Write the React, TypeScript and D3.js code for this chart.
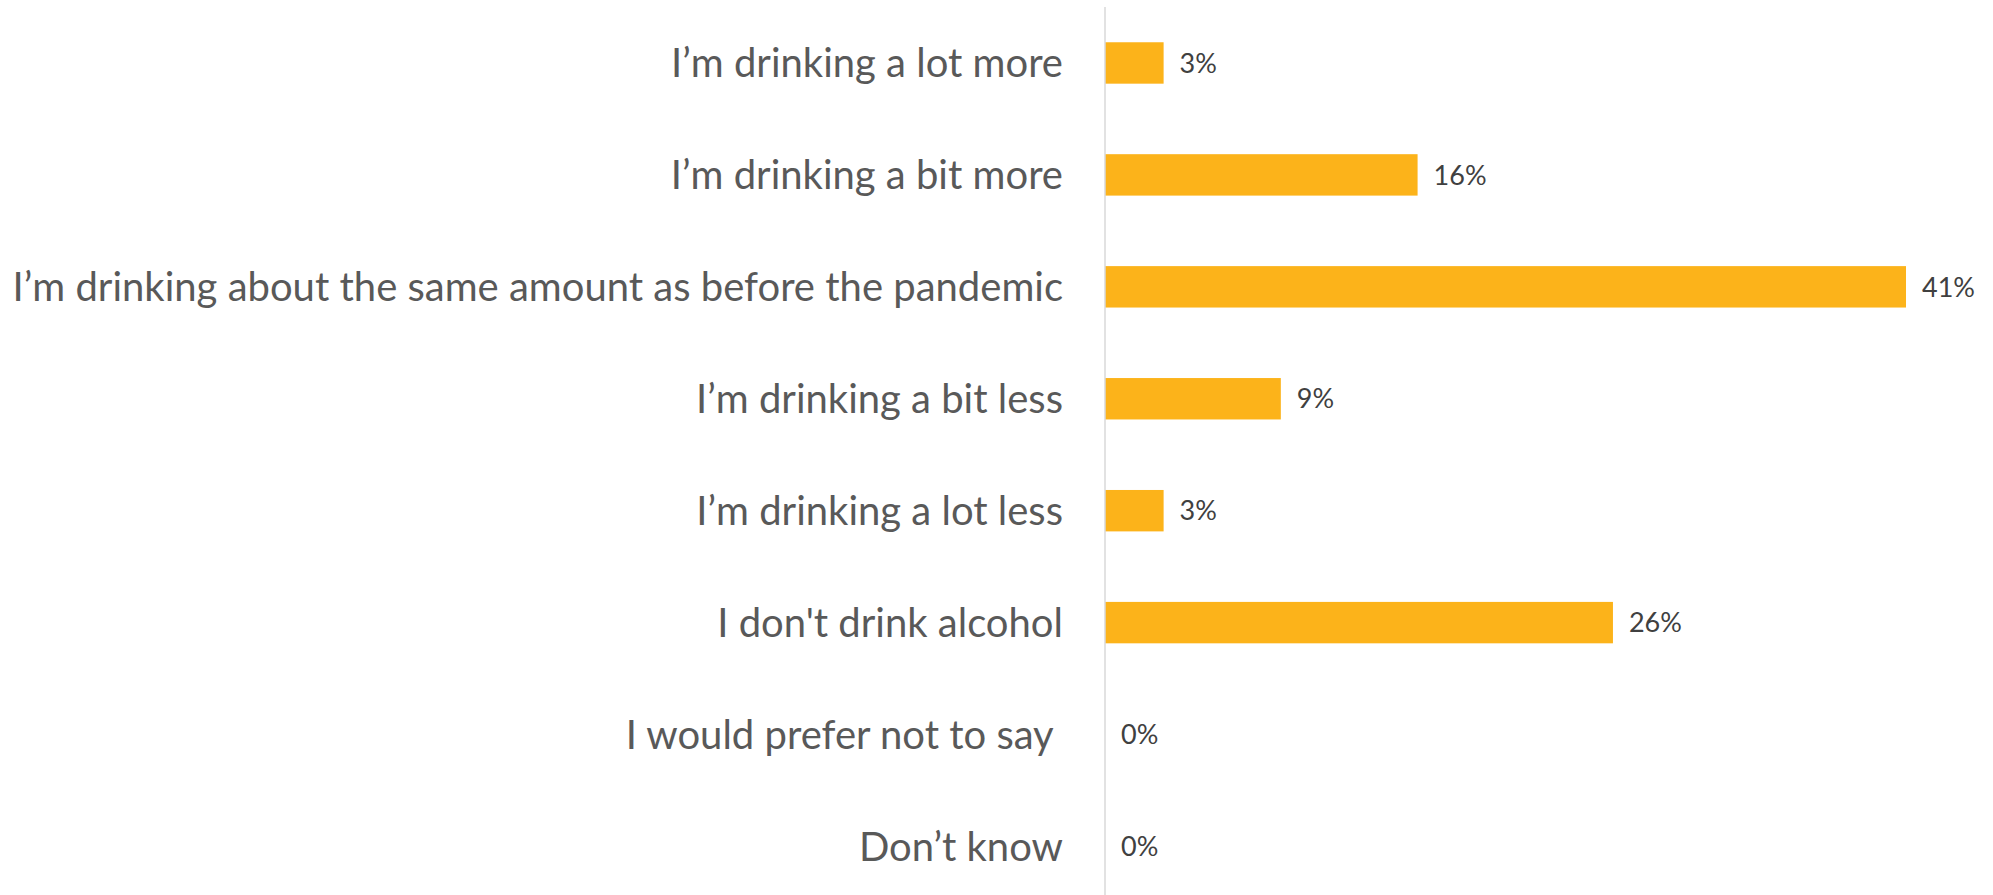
import React from "react";
import * as d3 from "d3";

const categories: string[] = [
  "I’m drinking a lot more",
  "I’m drinking a bit more",
  "I’m drinking about the same amount as before the pandemic",
  "I’m drinking a bit less",
  "I’m drinking a lot less",
  "I don't drink alcohol",
  "I would prefer not to say ",
  "Don’t know",
];
const values: number[] = [3, 16, 41, 9, 3, 26, 0, 0];
const valueLabels: string[] = ["3%", "16%", "41%", "9%", "3%", "26%", "0%", "0%"];

const W = 1993;
const H = 895;
const AXIS_X = 1105;
const BAR_COLOR = "#FCB31A";
const FONT = "Lato, 'Open Sans', sans-serif";

export default function App() {
  const x = d3.scaleLinear().domain([0, 41]).range([AXIS_X, 1906]);
  const y = d3
    .scaleBand<string>()
    .domain(categories)
    .range([7, 7 + 111.93 * categories.length])
    .paddingInner(0.63)
    .paddingOuter(0.315);

  const catSize = 40;
  const valSize = 27;

  return (
    <svg
      width={W}
      height={H}
      style={{ position: "absolute", left: 0, top: 0, background: "#fff" }}
    >
      <rect x={0} y={0} width={W} height={H} fill="#fff" />
      {categories.map((c, i) => {
        const yc = (y(c) as number) + y.bandwidth() / 2;
        const x1 = x(values[i]);
        return (
          <g key={c}>
            {values[i] > 0 && (
              <rect
                x={AXIS_X}
                y={y(c)}
                width={x1 - AXIS_X}
                height={y.bandwidth()}
                fill={BAR_COLOR}
              />
            )}
            <text
              x={1063}
              y={yc + catSize * 0.36}
              textAnchor="end"
              fontFamily={FONT}
              fontSize={catSize}
              fill="#595959"
              style={{ whiteSpace: "pre" }}
            >
              {c}
            </text>
            <text
              x={x1 + 16}
              y={yc + valSize * 0.36}
              textAnchor="start"
              fontFamily={FONT}
              fontSize={valSize}
              fill="#404040"
            >
              {valueLabels[i]}
            </text>
          </g>
        );
      })}
      <line
        x1={AXIS_X}
        x2={AXIS_X}
        y1={7}
        y2={H}
        stroke="#d9d9d9"
        strokeWidth={1.5}
      />
    </svg>
  );
}
